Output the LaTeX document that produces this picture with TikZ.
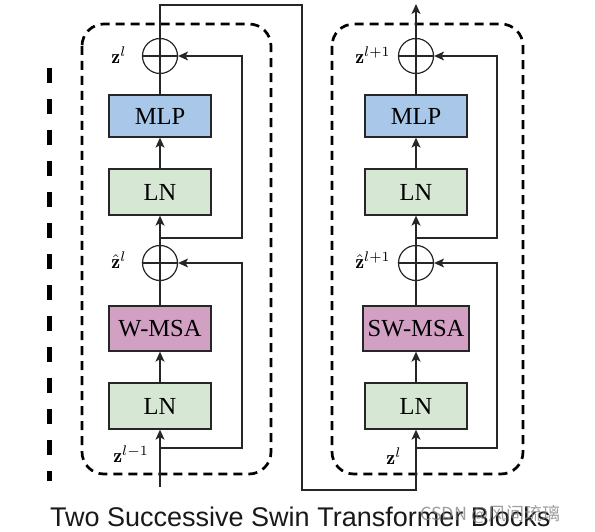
\documentclass[tikz,border=0pt]{standalone}
\usepackage{fontspec}
\usetikzlibrary{arrows.meta}
\newfontfamily\boxfont{Liberation Serif}
\newfontfamily\titlefont{Liberation Sans}
\newfontfamily\cjkfont{Noto Sans CJK SC}
\definecolor{mlpblue}{HTML}{A9C7E8}
\definecolor{lngreen}{HTML}{D6E8D4}
\definecolor{msapink}{HTML}{D2A0C3}
\newcommand{\zlab}[1]{\scalebox{2.0}{$#1$}}
\begin{document}
\begin{tikzpicture}[x=1pt,y=-1pt,
  blk/.style={draw=black!85, line width=1.3pt, rectangle, inner sep=0pt,
    minimum width=102pt, font=\boxfont\fontsize{24.5}{26}\selectfont},
  addop/.style={draw=black!85, line width=1.2pt, circle, inner sep=0pt, minimum size=35pt,
    path picture={\draw[line width=1.2pt,black!85] (path picture bounding box.north) -- (path picture bounding box.south)
      (path picture bounding box.west) -- (path picture bounding box.east);}},
  wire/.style={line width=1.3pt, black!85},
  arr/.style={wire, -{Stealth[length=10pt,width=9pt,inset=2.5pt]}},
  frame/.style={line width=2.7pt, dash pattern=on 9pt off 6pt, rounded corners=22pt},
  lab/.style={inner sep=0pt}]
\useasboundingbox (0,0) rectangle (595,532);
\fill[white] (0,0) rectangle (595,532);

% dashed frames
\draw[frame] (82,24) rectangle (271,474);
\draw[frame] (332,24) rectangle (523,474);
% left partial dashed bar
\draw[line width=5pt, dash pattern=on 15pt off 16pt] (49,68) -- (49,481);

% left block nodes
\node[blk, fill=mlpblue, minimum height=42pt] (mlp1) at (160,116) {MLP};
\node[blk, fill=lngreen, minimum height=46pt] (lnT1) at (160,192) {LN};
\node[blk, fill=msapink, minimum height=45pt] (wmsa) at (160,328.5) {W-MSA};
\node[blk, fill=lngreen, minimum height=46pt] (lnB1) at (160,406) {LN};
\node[addop] (add1) at (160,263) {};
\node[addop] (add2) at (160,56) {};

% right block nodes
\node[blk, fill=mlpblue, minimum height=42pt] (mlp2) at (416,116) {MLP};
\node[blk, fill=lngreen, minimum height=46pt] (lnT2) at (416,192) {LN};
\node[blk, fill=msapink, minimum height=45pt, minimum width=106pt] (swmsa) at (416,328.5) {SW-MSA};
\node[blk, fill=lngreen, minimum height=46pt] (lnB2) at (416,406) {LN};
\node[addop] (add3) at (416,263) {};
\node[addop] (add4) at (416,56) {};

% labels
\node[lab] (l1) at (119,55) {\zlab{\mathbf{z}^l}};
\node[lab] (l2) at (119,260) {\zlab{\hat{\mathbf{z}}^l}};
\node[lab] (l3) at (131,454) {\zlab{\mathbf{z}^{l-1}}};
\node[lab] (l4) at (373,55) {\zlab{\mathbf{z}^{l+1}}};
\node[lab] (l5) at (373,260) {\zlab{\hat{\mathbf{z}}^{l+1}}};
\node[lab] (l6) at (394,456) {\zlab{\mathbf{z}^l}};

% coordinates
\coordinate (inL) at (160,487);
\coordinate (brL1) at (160,448);
\coordinate (skL1) at (242,448);
\coordinate (brL2) at (160,238);
\coordinate (skL2) at (242,238);
\coordinate (c1) at (160,5);
\coordinate (c2) at (302,5);
\coordinate (c3) at (302,490);
\coordinate (c4) at (416,490);
\coordinate (brR1) at (416,448);
\coordinate (skR1) at (497,448);
\coordinate (brR2) at (416,238);
\coordinate (skR2) at (497,238);
\coordinate (outR) at (416,4);

% left wiring
\draw[arr] (inL) -- (lnB1.south);
\draw[arr] (brL1) -- (skL1) |- (add1.east);
\draw[arr] (lnB1.north) -- (wmsa.south);
\draw[wire] (wmsa.north) -- (add1.south);
\draw[arr] (add1.north) -- (lnT1.south);
\draw[arr] (brL2) -- (skL2) |- (add2.east);
\draw[arr] (lnT1.north) -- (mlp1.south);
\draw[wire] (mlp1.north) -- (add2.south);
% link between blocks
\draw[arr] (add2.north) -- (c1) -- (c2) -- (c3) -- (c4) -- (lnB2.south);
% right wiring
\draw[arr] (brR1) -- (skR1) |- (add3.east);
\draw[arr] (lnB2.north) -- (swmsa.south);
\draw[wire] (swmsa.north) -- (add3.south);
\draw[arr] (add3.north) -- (lnT2.south);
\draw[arr] (brR2) -- (skR2) |- (add4.east);
\draw[arr] (lnT2.north) -- (mlp2.south);
\draw[wire] (mlp2.north) -- (add4.south);
\draw[arr] (add4.north) -- (outR);

% title
\node[anchor=base west, inner sep=0pt, text=black!90, font=\titlefont\fontsize{27}{30}\selectfont] (title) at (50,526) {Two Successive Swin Transformer Blocks};
% watermark
\node[anchor=west, inner sep=0pt, text=gray, opacity=0.75, font=\cjkfont\fontsize{18}{20}\selectfont] (wm) at (420,514) {CSDN @风间琉璃};
\end{tikzpicture}
\end{document}
